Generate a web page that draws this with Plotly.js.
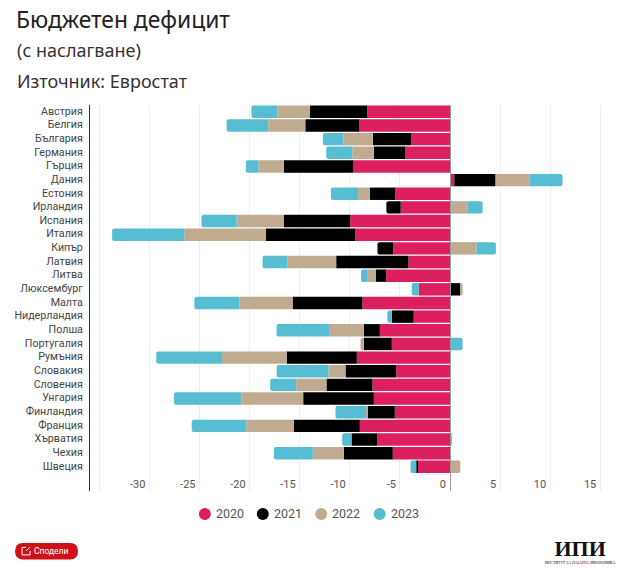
<!DOCTYPE html>
<html><head><meta charset="utf-8">
<script src="https://cdn.plot.ly/plotly-3.0.1.min.js"></script>
<style>html,body{margin:0;padding:0;background:#fff}#c{width:624px;height:585px}</style>
</head><body><div id="c"></div>
<script>
const categories = ["Австрия","Белгия","България","Германия","Гърция","Дания","Естония","Ирландия","Испания","Италия","Кипър","Латвия","Литва","Люксембург","Малта","Нидерландия","Полша","Португалия","Румъния","Словакия","Словения","Унгария","Финландия","Франция","Хърватия","Чехия","Швеция"];
const y2020 = [-8.27,-9.04,-3.85,-4.45,-9.63,0.43,-5.45,-4.92,-9.97,-9.47,-5.68,-4.15,-6.38,-3.12,-8.74,-3.62,-7.0,-5.81,-9.3,-5.38,-7.74,-7.6,-5.51,-9.0,-7.28,-5.71,-3.29];
const y2021 = [-5.7,-5.4,-3.85,-3.15,-6.95,4.12,-2.55,-1.43,-6.63,-8.9,-1.56,-7.21,-1.03,1.03,-6.97,-2.19,-1.6,-2.79,-7.0,-5.05,-4.59,-7.05,-2.69,-6.58,-2.55,-4.89,-0.05];
const y2022 = [-3.25,-3.7,-2.93,-2.15,-2.53,3.42,-1.17,1.73,-4.7,-8.15,2.66,-4.89,-0.8,0.23,-5.3,0,-3.46,-0.33,-6.46,-1.7,-3.02,-6.18,-0.17,-4.76,0.13,-3.09,1.03];
const y2023 = [-2.6,-4.15,-2.06,-2.6,-1.27,3.26,-2.72,1.53,-3.5,-7.2,1.92,-2.45,-0.67,-0.7,-4.5,-0.44,-5.25,1.26,-6.56,-5.17,-2.6,-6.72,-3.06,-5.44,-0.93,-3.89,-0.6];
const seriesNames = ["2020","2021","2022","2023"];
const seriesColors = ["#dc1f5e","#000000","#c0aa90","#57bdd3"];
const tickVals = [-35,-30,-25,-20,-15,-10,-5,0,5,10,15];
const tickText = ["","-30","-25","-20","-15","-10","-5","0","5","10","15"];

const W=624,H=585,L=90,R=606.5,T=104.5,B=491;
const px=x=>(x-L)/(R-L), py=y=>(B-y)/(B-T);
const values=[y2020,y2021,y2022,y2023];
const traces=values.map((v,i)=>({type:'bar',orientation:'h',x:v,y:categories,marker:{color:seriesColors[i],line:{width:0}},showlegend:false,hoverinfo:'x+y',name:seriesNames[i]}));

function roundRect(x0,y0,x1,y1,r){
  const X=px,Y=py;
  return `M${X(x0+r)},${Y(y0)} L${X(x1-r)},${Y(y0)} Q${X(x1)},${Y(y0)} ${X(x1)},${Y(y0+r)} L${X(x1)},${Y(y1-r)} Q${X(x1)},${Y(y1)} ${X(x1-r)},${Y(y1)} L${X(x0+r)},${Y(y1)} Q${X(x0)},${Y(y1)} ${X(x0)},${Y(y1-r)} L${X(x0)},${Y(y0+r)} Q${X(x0)},${Y(y0)} ${X(x0+r)},${Y(y0)} Z`;
}
const note=(text,x,y,size,color,family,extra)=>Object.assign({xref:'paper',yref:'paper',x:px(x),y:py(y),text,showarrow:false,xanchor:'left',yanchor:'middle',borderpad:0,font:{size,color,family}},extra||{});
const plex='"Noto Sans", sans-serif', rob='Roboto, sans-serif';
const legendX=[205,263,321.5,380];
const annotations=[
    note('(с наслагване)',16,49,18,'#333',plex),
    note('Източник: Евростат',16,80,18,'#333',plex),
    note('Сподели',33,551.5,8.5,'#fff',rob),
    note('<span style="font-size:22px"><b>ИПИ</b></span><br><span style="font-size:3.8px">ИНСТИТУТ ЗА ПАЗАРНА ИКОНОМИКА</span>',581,551,6.5,'#111','"Liberation Serif", serif',{xanchor:'center'})
];
const shapes=[
    {type:'path',xref:'paper',yref:'paper',path:roundRect(15,543,78,559.5,8),fillcolor:'#d01017',line:{width:0},layer:'above'},
    {type:'path',xref:'paper',yref:'paper',path:`M${px(26)},${py(547.5)} L${px(22)},${py(547.5)} L${px(22)},${py(555)} L${px(30)},${py(555)} L${px(30)},${py(551)} M${px(26)},${py(551)} L${px(30)},${py(547)}`,line:{color:'#fff',width:1},layer:'above'}
];
seriesNames.forEach((n,i)=>{
  annotations.push(note(n,legendX[i]+10,514,12.5,'#555',rob));
  shapes.push({type:'circle',xref:'paper',yref:'paper',x0:px(legendX[i]-6),x1:px(legendX[i]+6),y0:py(508),y1:py(520),fillcolor:seriesColors[i],line:{width:0}});
});
const layout={
  width:W,height:H,margin:{l:L,r:W-R,t:T,b:H-B,pad:0},
  paper_bgcolor:'#fff',plot_bgcolor:'#fff',
  barmode:'relative',bargap:0.09,barcornerradius:2,
  font:{family:rob,color:'#444'},
  xaxis:{range:[-35.93,15.57],tickmode:'array',tickvals:tickVals,ticktext:tickText,ticklabelposition:'inside left',ticklabelshift:-4,ticklabelstandoff:-5,
    showgrid:true,gridcolor:'#eeeeee',gridwidth:1,zeroline:true,zerolinecolor:'#999',zerolinewidth:1,zerolinelayer:'above traces',
    ticks:'',showline:false,tickfont:{size:11,color:'#555',family:rob},fixedrange:true},
  yaxis:{type:'category',categoryorder:'array',categoryarray:categories,range:[27.77,-0.5],tickmode:'array',tickvals:categories,
    showgrid:false,zeroline:false,showline:true,linecolor:'#333',linewidth:1,ticks:'outside',ticklen:4,tickcolor:'rgba(0,0,0,0)',ticklabelshift:1,
    tickfont:{size:10.7,color:'#444',family:rob},fixedrange:true},
  showlegend:false,
  title:{text:'Бюджетен дефицит',x:16/W,xanchor:'left',y:1-20/H,yanchor:'middle',font:{size:22.8,color:'#222',family:plex}},
  annotations,shapes
};
Plotly.newPlot('c',traces,layout,{displayModeBar:false,responsive:false});
</script></body></html>
